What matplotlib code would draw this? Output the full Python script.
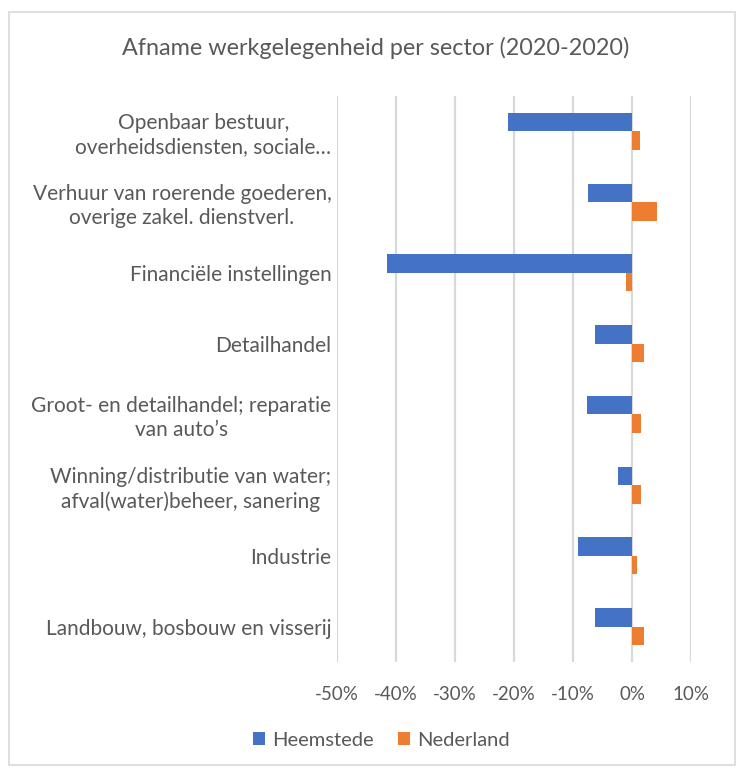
import matplotlib
matplotlib.use("Agg")
import matplotlib.pyplot as plt
from matplotlib.patches import Rectangle
import numpy as np

plt.rcParams['font.family'] = ['Lato', 'DejaVu Sans']

categories = [
    "Openbaar bestuur,\noverheidsdiensten, sociale…",
    "Verhuur van roerende goederen,\noverige zakel. dienstverl.",
    "Financiële instellingen",
    "Detailhandel",
    "Groot- en detailhandel; reparatie\nvan auto’s",
    "Winning/distributie van water;\nafval(water)beheer, sanering",
    "Industrie",
    "Landbouw, bosbouw en visserij",
]
heemstede = [-21.0, -7.4, -41.5, -6.3, -7.6, -2.3, -9.2, -6.2]
nederland = [1.3, 4.3, -1.0, 2.1, 1.6, 1.5, 0.8, 2.0]
xticks = [-50, -40, -30, -20, -10, 0, 10]
xticklabels = ["-50%", "-40%", "-30%", "-20%", "-10%", "0%", "10%"]

W, H = 743, 769
fig = plt.figure(figsize=(W/100, H/100), dpi=100)
ax = fig.add_axes([337/W, 1-662/H, (691-337)/W, (662-96)/H])

blue = "#4472C4"
orange = "#ED7D31"
txt = "#595959"
grid = "#D9D9D9"

n = len(categories)
y = np.arange(n)
bh = 0.262
ax.barh(y - bh/2, heemstede, height=bh, color=blue, label="Heemstede", zorder=3)
ax.barh(y + bh/2, nederland, height=bh, color=orange, label="Nederland", zorder=3)

ax.set_ylim(n - 0.5, -0.5)
ax.set_xlim(-50, 10)
ax.set_xticks(xticks)
ax.set_xticklabels(xticklabels, color=txt, fontsize=13.5)
ax.set_yticks(y)
ax.set_yticklabels(categories, color=txt, fontsize=15, linespacing=1.25,
                   multialignment='center')
ax.tick_params(axis='both', length=0)
ax.tick_params(axis='x', pad=17)
ax.tick_params(axis='y', pad=4)
ax.xaxis.grid(True, color=grid, linewidth=1.6, zorder=0)
for s in ax.spines.values():
    s.set_visible(False)

fig.text(376/W, 1-48/H, "Afname werkgelegenheid per sector (2020-2020)",
         ha='center', va='center', fontsize=16.8, color=txt)

h, l = ax.get_legend_handles_labels()
fig.legend(h, l, loc='center', bbox_to_anchor=(381/W, 1-740/H), ncol=2,
           frameon=False, fontsize=14.5, labelcolor=txt, handlelength=0.6,
           handleheight=0.6, columnspacing=1.2, handletextpad=0.35)

fig.add_artist(Rectangle((9/W, 4/H), (735-9)/W, (757-4)/H, transform=fig.transFigure,
                         fill=False, edgecolor=grid, linewidth=1.2))

fig.savefig("out.png", dpi=100)
